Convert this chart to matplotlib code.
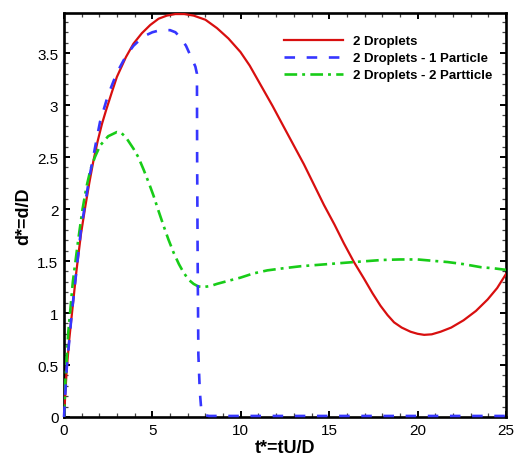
import matplotlib
matplotlib.use("Agg")
import matplotlib.pyplot as plt
from matplotlib.ticker import MultipleLocator, FixedLocator, FixedFormatter

plt.rcParams["font.family"] = ["Liberation Sans", "DejaVu Sans"]

# Dimensionless separation d* versus dimensionless time t*
t_two = [0, 0.05, 0.15, 0.3, 0.44, 0.7, 0.96, 1.2, 1.43, 1.66, 1.9, 2.15,
         2.38, 2.7, 2.99, 3.5, 3.93, 4.4, 4.88, 5.35, 5.82, 6.3, 6.8, 7.33,
         8.0, 8.65, 9.3, 9.98, 10.5, 11.1, 11.8, 12.43, 13.0, 13.57, 14.15,
         14.7, 15.3, 15.83, 16.4, 16.97, 17.45, 17.9, 18.3, 18.67, 19.1, 19.6,
         20.0, 20.37, 20.8, 21.3, 21.9, 22.6, 23.3, 23.96, 24.5, 25]
d_two = [0, 0.15, 0.45, 0.75, 0.98, 1.4, 1.76, 2.02, 2.25, 2.46, 2.65, 2.82,
         2.95, 3.12, 3.27, 3.46, 3.59, 3.69, 3.77, 3.83, 3.86, 3.875, 3.875,
         3.86, 3.82, 3.74, 3.64, 3.51, 3.38, 3.20, 2.99, 2.79, 2.61, 2.43,
         2.23, 2.04, 1.85, 1.67, 1.49, 1.33, 1.19, 1.07, 0.98, 0.91, 0.86,
         0.82, 0.80, 0.79, 0.795, 0.82, 0.86, 0.93, 1.02, 1.13, 1.24, 1.375]

t_one_p = [0, 0.05, 0.15, 0.44, 0.96, 1.43, 1.9, 2.04, 2.5, 2.99, 3.5, 3.93,
           4.5, 5.0, 5.44, 6.0, 6.3, 6.58, 6.9, 7.14, 7.3, 7.43, 7.52, 7.53,
           7.56, 7.6, 7.68, 7.75, 7.9, 8.2, 25]
d_one_p = [0, 0.15, 0.46, 1.0, 1.8, 2.3, 2.72, 2.84, 3.1, 3.31, 3.47, 3.57,
           3.66, 3.70, 3.72, 3.72, 3.70, 3.65, 3.57, 3.48, 3.42, 3.37, 3.3,
           2.5, 1.5, 0.6, 0.25, 0.1, 0.02, 0.01, 0.01]

t_two_p = [0, 0.08, 0.24, 0.5, 0.81, 1.05, 1.28, 1.5, 1.75, 2.04, 2.5, 2.99,
           3.25, 3.5, 3.93, 4.2, 4.5, 4.8, 5.06, 5.35, 5.63, 5.9, 6.2, 6.5,
           6.76, 7.05, 7.33, 7.6, 7.9, 8.3, 8.65, 9.3, 9.98, 10.7, 11.5, 12.4,
           13.4, 14.9, 16.4, 18.0, 19.0, 20.0, 21.0, 21.7, 22.6, 23.6, 24.3, 25]
d_two_p = [0, 0.35, 0.81, 1.3, 1.71, 2.0, 2.22, 2.38, 2.5, 2.61, 2.70, 2.74,
           2.73, 2.69, 2.58, 2.50, 2.38, 2.25, 2.13, 1.98, 1.84, 1.71, 1.58,
           1.47, 1.39, 1.32, 1.28, 1.255, 1.25, 1.26, 1.28, 1.31, 1.34, 1.38,
           1.41, 1.43, 1.45, 1.47, 1.49, 1.51, 1.515, 1.515, 1.50, 1.49, 1.47,
           1.44, 1.43, 1.415]

labels = ["2 Droplets", "2 Droplets - 1 Particle", "2 Droplets - 2 Partticle"]

x_ticks = [0, 5, 10, 15, 20, 25]
x_tick_labels = ["0", "5", "10", "15", "20", "25"]
y_ticks = [0, 0.5, 1, 1.5, 2, 2.5, 3, 3.5]
y_tick_labels = ["0", "0.5", "1", "1.5", "2", "2.5", "3", "3.5"]

fig = plt.figure(figsize=(5.15, 4.56), dpi=100)
ax = fig.add_axes([64 / 515, 1 - 418 / 456, 442 / 515, 404 / 456])

ax.plot(t_two, d_two, color="#d80f0f", lw=1.6, label=labels[0], zorder=3)
ax.plot(t_one_p, d_one_p, color="#3636ff", lw=1.9, linestyle=(0, (4, 4.4)),
        label=labels[1], zorder=4, clip_on=False)
ax.plot(t_two_p, d_two_p, color="#18cc18", lw=1.9,
        linestyle=(0, (4.8, 1.9, 1.1, 2.0)), label=labels[2], zorder=3)

ax.set_xlim(0, 25)
ax.set_ylim(0, 3.885)

ax.xaxis.set_major_locator(FixedLocator(x_ticks))
ax.xaxis.set_major_formatter(FixedFormatter(x_tick_labels))
ax.yaxis.set_major_locator(FixedLocator(y_ticks))
ax.yaxis.set_major_formatter(FixedFormatter(y_tick_labels))
ax.xaxis.set_minor_locator(MultipleLocator(1))
ax.yaxis.set_minor_locator(MultipleLocator(0.1))

ax.tick_params(which="both", direction="in", top=True, right=True,
               labelsize=11, colors="black")
ax.tick_params(which="major", length=4.5, width=1.4, pad=4)
ax.tick_params(which="minor", length=2.6, width=0.9, color="#444444")

for s in ax.spines.values():
    s.set_linewidth(1.9)

ax.set_xlabel("t*=tU/D", fontsize=13, fontweight="bold", labelpad=2)
ax.set_ylabel("d*=d/D", fontsize=13, fontweight="bold", labelpad=4)

leg = ax.legend(loc="upper left", bbox_to_anchor=(0.497, 0.945),
                frameon=False, borderpad=0, borderaxespad=0,
                handlelength=4.5, handletextpad=0.75, labelspacing=0.35,
                prop={"size": 9.5, "weight": "bold"})

fig.savefig("out.png", dpi=100)
